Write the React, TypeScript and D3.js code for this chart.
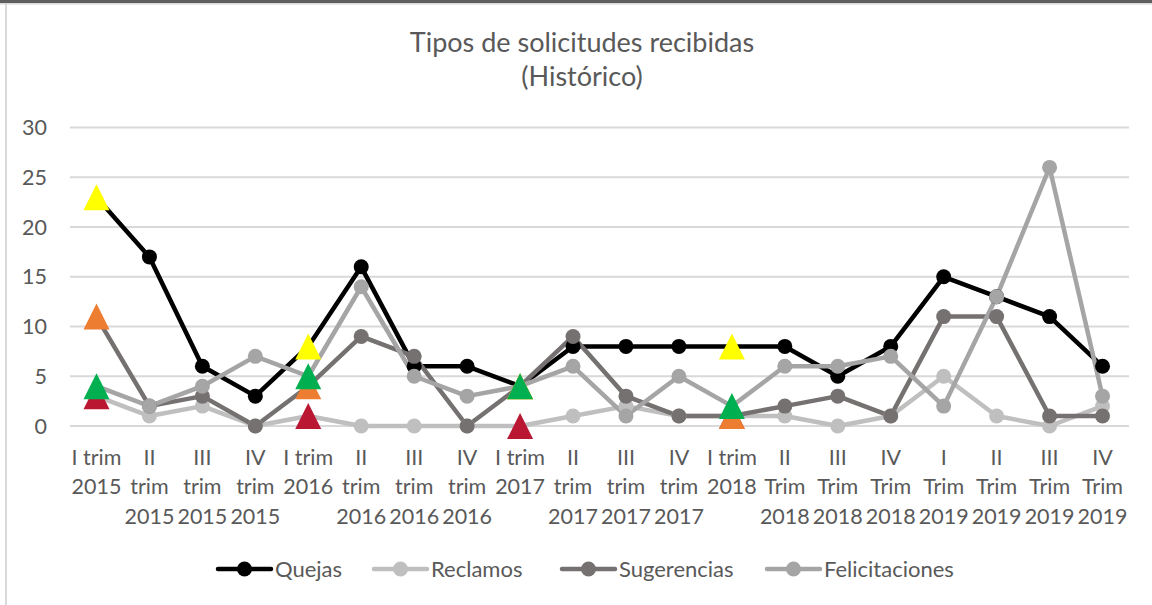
import * as d3 from 'd3'
import React from 'react'

// quarters, "\n" marks where the axis label wraps
const categories = [
  'I trim\n2015', 'II\ntrim\n2015', 'III\ntrim\n2015', 'IV\ntrim\n2015',
  'I trim\n2016', 'II\ntrim\n2016', 'III\ntrim\n2016', 'IV\ntrim\n2016',
  'I trim\n2017', 'II\ntrim\n2017', 'III\ntrim\n2017', 'IV\ntrim\n2017',
  'I trim\n2018', 'II\nTrim\n2018', 'III\nTrim\n2018', 'IV\nTrim\n2018',
  'I\nTrim\n2019', 'II\nTrim\n2019', 'III\nTrim\n2019', 'IV\nTrim\n2019',
]

const quejas = [23, 17, 6, 3, 8, 16, 6, 6, 4, 8, 8, 8, 8, 8, 5, 8, 15, 13, 11, 6]
const reclamos = [3, 1, 2, 0, 1, 0, 0, 0, 0, 1, 2, 1, 1, 1, 0, 1, 5, 1, 0, 2]
const sugerencias = [11, 2, 3, 0, 4, 9, 7, 0, 4, 9, 3, 1, 1, 2, 3, 1, 11, 11, 1, 1]
const felicitaciones = [4, 2, 4, 7, 5, 14, 5, 3, 4, 6, 1, 5, 2, 6, 6, 7, 2, 13, 26, 3]

const yTicks = [0, 5, 10, 15, 20, 25, 30]
// first quarter of each year is drawn with a triangle marker
const highlightIndexes = [0, 4, 8, 12]

const series = [
  { name: 'Quejas', values: quejas, color: '#000000', highlight: '#FFFF00' },
  { name: 'Reclamos', values: reclamos, color: '#BFBFBF', highlight: '#BA1733' },
  { name: 'Sugerencias', values: sugerencias, color: '#767171', highlight: '#ED7D31' },
  { name: 'Felicitaciones', values: felicitaciones, color: '#A5A5A5', highlight: '#00B050' },
]

const WIDTH = 1152
const HEIGHT = 605
const FONT = 'Lato, "Open Sans", sans-serif'
const TEXT_COLOR = '#595959'

const plot = { left: 70, right: 1129, top: 127.6, bottom: 426 }

const triangle = (cx, cy, r = 13) => `M${cx - r},${cy + r}L${cx + r},${cy + r}L${cx},${cy - r}Z`

// legend entry start positions
const legendX = [218, 374, 562, 767]

export default function App() {
  const x = d3.scaleBand().domain(categories).range([plot.left, plot.right])
  const cx = c => x(c) + x.bandwidth() / 2
  const y = d3.scaleLinear().domain([0, 30]).range([plot.bottom, plot.top])

  const line = d3
    .line()
    .x((d, i) => cx(categories[i]))
    .y(d => y(d))

  return (
    <div style={{ position: 'fixed', left: 0, top: 0 }}>
      <svg width={WIDTH} height={HEIGHT} style={{ display: 'block', background: '#fff' }} fontFamily={FONT}>
        {/* frame */}
        <rect x={0} y={0} width={WIDTH} height={3} fill="#5f5f5f" />
        <rect x={0} y={3} width={WIDTH} height={1.5} fill="#d9d9d9" />
        <rect x={5} y={3} width={2} height={HEIGHT} fill="#d9d9d9" />

        {/* title */}
        <text x={582} y={52} textAnchor="middle" fontSize={27} fill={TEXT_COLOR}>
          Tipos de solicitudes recibidas
        </text>
        <text x={582} y={86} textAnchor="middle" fontSize={27} fill={TEXT_COLOR}>
          (Histórico)
        </text>

        {/* grid + y labels */}
        {yTicks.map(t => (
          <g key={t}>
            <line x1={plot.left} x2={plot.right} y1={y(t)} y2={y(t)} stroke="#d9d9d9" strokeWidth={2} />
            <text x={47} y={y(t)} dy="0.35em" textAnchor="end" fontSize={21.5} fill={TEXT_COLOR}>
              {t}
            </text>
          </g>
        ))}

        {/* x labels */}
        {categories.map(c => (
          <text key={c} x={cx(c)} y={457} textAnchor="middle" fontSize={21.5} fill={TEXT_COLOR}>
            {c.split('\n').map((part, i) => (
              <tspan key={i} x={cx(c)} dy={i === 0 ? '0.35em' : 29.7}>
                {part}
              </tspan>
            ))}
          </text>
        ))}

        {/* lines */}
        {series.map(s => (
          <path key={s.name} d={line(s.values)} fill="none" stroke={s.color} strokeWidth={4.5} strokeLinejoin="round" />
        ))}

        {/* circle markers */}
        {series.map(s => (
          <g key={s.name}>
            {s.values.map((v, i) =>
              highlightIndexes.includes(i) ? null : (
                <circle key={i} cx={cx(categories[i])} cy={y(v)} r={7.5} fill={s.color} />
              )
            )}
          </g>
        ))}

        {/* triangle markers */}
        {series.map(s => (
          <g key={s.name}>
            {highlightIndexes.map(i => (
              <path key={i} d={triangle(cx(categories[i]), y(s.values[i]))} fill={s.highlight} />
            ))}
          </g>
        ))}

        {/* legend */}
        {series.map((s, i) => {
          const lx = legendX[i]
          return (
            <g key={s.name}>
              <line x1={lx} x2={lx + 53} y1={569} y2={569} stroke={s.color} strokeWidth={4.5} strokeLinecap="round" />
              <circle cx={lx + 26.5} cy={569} r={7.5} fill={s.color} />
              <text x={lx + 57} y={569} dy="0.35em" fontSize={22} fill={TEXT_COLOR}>
                {s.name}
              </text>
            </g>
          )
        })}
      </svg>
    </div>
  )
}
